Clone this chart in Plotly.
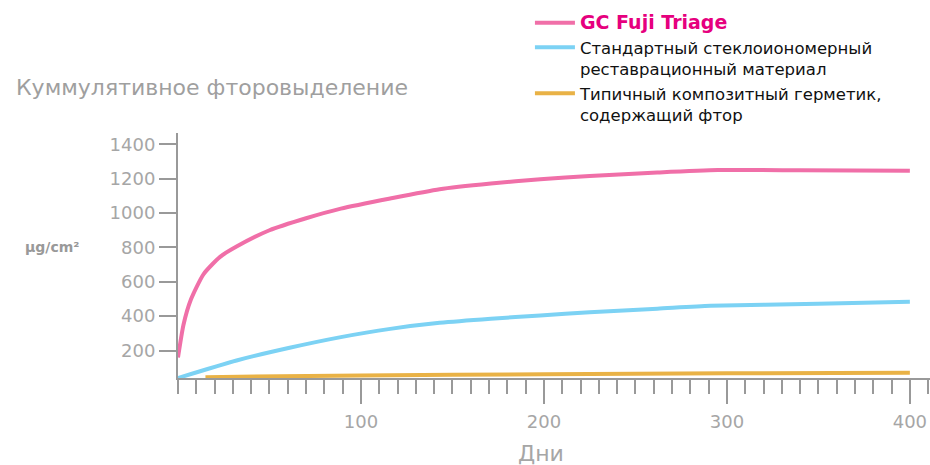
import plotly.graph_objects as go

# ---- data ----
fuji_days = [0, 3, 7, 14, 23, 32, 50, 70, 89, 116, 143, 171, 198, 225, 262, 295, 340, 400]
fuji_vals = [160, 350, 495, 645, 745, 805, 900, 970, 1026, 1085, 1139, 1172, 1197, 1216, 1236, 1250, 1249, 1246]

glass_days = [0, 32, 61, 89, 116, 143, 171, 198, 225, 262, 291, 350, 400]
glass_vals = [40, 142, 216, 278, 326, 361, 385, 404, 423, 443, 460, 472, 484]

comp_days = [15, 100, 200, 300, 400]
comp_vals = [45, 55, 62, 67, 70]

series_names = [
    "<span style='color:#e6007e;font-size:19px'><b>GC Fuji Triage</b></span>",
    "Стандартный стеклоиономерный<br>реставрационный материал",
    "Типичный композитный герметик,<br>содержащий фтор",
]
series_colors = ["#f06fa8", "#7cd2f4", "#e9b246"]

y_ticks = [200, 400, 600, 800, 1000, 1200, 1400]
x_ticks = [100, 200, 300, 400]

title_text = "Куммулятивное фторовыделение"
unit_text = "<b>μg/cm²</b>"
x_title = "Дни"

FONT = "DejaVu Sans"
GRAY = "#a6a6a6"
AXIS = "#999999"

fig = go.Figure()
for d, v, n, c in zip([fuji_days, glass_days, comp_days],
                      [fuji_vals, glass_vals, comp_vals],
                      series_names, series_colors):
    fig.add_trace(go.Scatter(x=d, y=v, mode="lines", name=n,
                             line=dict(color=c, width=4, shape="spline", smoothing=0.6)))

fig.update_layout(
    width=930, height=465,
    margin=dict(l=178, r=0, t=133, b=87),
    paper_bgcolor="white", plot_bgcolor="white",
    font=dict(family=FONT, color=GRAY),
    showlegend=True,
    legend=dict(x=0.468, y=1.52, xanchor="left", yanchor="top",
                font=dict(family=FONT, size=16.5, color="#111111"),
                valign="top", tracegroupgap=0, itemwidth=40,
                bgcolor="rgba(0,0,0,0)"),
    xaxis=dict(range=[0, 411], tickvals=x_ticks, ticks="outside", ticklen=24,
               tickwidth=2, tickcolor=AXIS, showline=True, linecolor=AXIS, linewidth=2,
               showgrid=False, zeroline=False,
               tickfont=dict(family=FONT, size=18, color=GRAY),
               ticklabelstandoff=2,
               minor=dict(dtick=10, tick0=0, ticks="outside", ticklen=14,
                          tickwidth=2, tickcolor=AXIS, showgrid=False)),
    yaxis=dict(range=[40, 1466], tickvals=y_ticks, ticks="outside", ticklen=17,
               tickwidth=2, tickcolor=AXIS, showline=True, linecolor=AXIS, linewidth=2,
               showgrid=False, zeroline=False,
               tickfont=dict(family=FONT, size=18, color=GRAY)),
    annotations=[
        dict(text=title_text, xref="paper", yref="paper", x=-0.218, y=1.184,
             xanchor="left", yanchor="middle", showarrow=False,
             font=dict(family=FONT, size=22, color="#9f9f9f")),
        dict(text=unit_text, xref="paper", yref="paper", x=-0.168, y=0.534,
             xanchor="center", yanchor="middle", showarrow=False,
             font=dict(family=FONT, size=14, color="#999999")),
        dict(text=x_title, xref="paper", yref="paper", x=0.483, y=-0.31,
             xanchor="center", yanchor="middle", showarrow=False,
             font=dict(family=FONT, size=22, color=GRAY)),
    ],
)

fig.write_html("out.html", config={"displayModeBar": False},
               post_script="document.body.style.margin='0';document.body.style.overflow='hidden';")
